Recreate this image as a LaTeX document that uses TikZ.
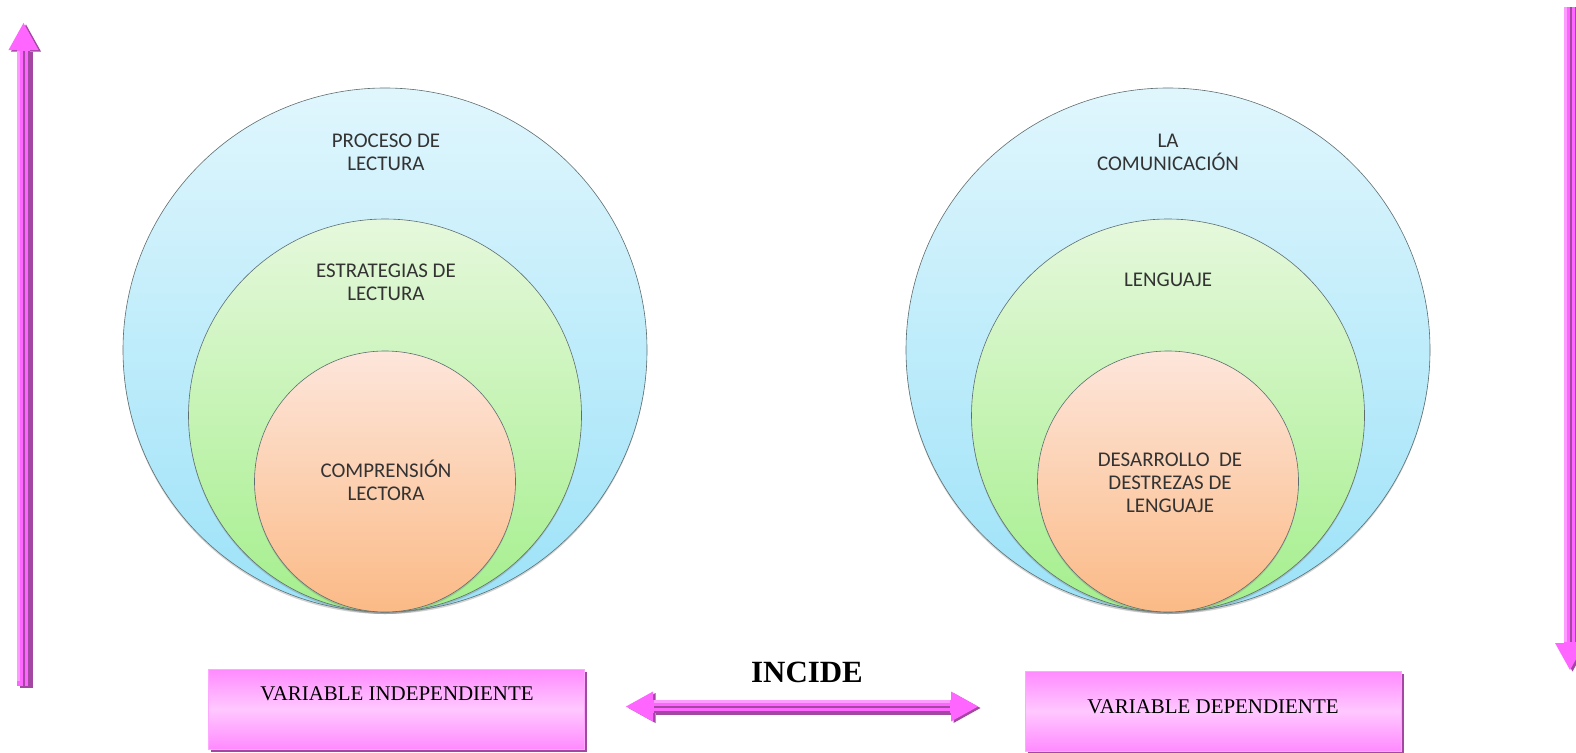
\documentclass[tikz,border=0pt]{standalone}
\usepackage{fontspec}
\setmainfont{Liberation Serif}
\newfontfamily\calibri{Carlito}
\usepackage{tikz}
\usetikzlibrary{calc,arrows.meta,shadows}

\definecolor{bluetop}{HTML}{E0F6FD}
\definecolor{bluebot}{HTML}{9CE2F8}
\definecolor{greentop}{HTML}{E6F8DC}
\definecolor{greenbot}{HTML}{A4EF8C}
\definecolor{orangetop}{HTML}{FDE6DB}
\definecolor{orangebot}{HTML}{FBBA86}
\definecolor{ringline}{HTML}{5E6E70}
\definecolor{ringtext}{HTML}{333333}
\definecolor{boxpink}{HTML}{FF8AFF}
\definecolor{boxlight}{HTML}{FFC8FF}
\definecolor{boxedge}{HTML}{FFA8FF}
\definecolor{arrowpink}{HTML}{FF66FF}
\definecolor{arrowlight}{HTML}{FF9CFF}
\definecolor{arrowpurple}{HTML}{A347A3}

\begin{document}
\begin{tikzpicture}[x=1bp,y=-1bp]
    \tikzstyle{ring}=[circle,draw=ringline,line width=.6bp,inner sep=0,drop shadow={shadow xshift=0bp,shadow yshift=-2bp,opacity=.35}]
    \tikzstyle{outer ring}=[ring,minimum size=524bp,top color=bluetop,bottom color=bluebot]
    \tikzstyle{middle ring}=[ring,minimum size=393bp,top color=greentop,bottom color=greenbot]
    \tikzstyle{inner ring}=[ring,minimum size=261bp,top color=orangetop,bottom color=orangebot]
    \tikzstyle{ring text}=[align=center,text=ringtext,font=\calibri\fontsize{21}{23}\selectfont]
    \tikzstyle{var box}=[rectangle,draw=boxedge,line width=.8bp,minimum width=376bp,minimum height=80bp,
        top color=boxpink,bottom color=boxpink,middle color=boxlight,
        drop shadow={shadow xshift=3bp,shadow yshift=-3bp,opacity=1,fill=arrowpurple}]
    \tikzstyle{var text}=[font=\fontsize{21}{24}\selectfont]
    \tikzstyle{big arrow}=[line width=13bp,draw=arrowpink]
    \tikzstyle{arrow side}=[line width=13bp,draw=arrowpurple]
    \tikzstyle{one head}=[-{Triangle[width=30bp,length=27bp,line width=0pt]}]
    \tikzstyle{two heads}=[{Triangle[width=30bp,length=27bp,line width=0pt]}-{Triangle[width=30bp,length=27bp,line width=0pt]}]
    \tikzstyle{light stripe}=[line width=3bp,draw=arrowlight]
    \tikzstyle{dark stripe}=[line width=2bp,draw=arrowpurple]

    \useasboundingbox (0,0) rectangle (1576,753);

    % circles
    \node (procring) [outer ring] at (385,350) {};
    \node (comuring) [outer ring] at (1168,350) {};
    \node (estrring) [middle ring] at (385,415.5) {};
    \node (lengring) [middle ring] at (1168,415.5) {};
    \node (compring) [inner ring] at (385,481.5) {};
    \node (desaring) [inner ring] at (1168,481.5) {};

    \node (proc) [ring text] at (386,152) {PROCESO DE\\LECTURA};
    \node (estr) [ring text] at (386,282) {ESTRATEGIAS DE\\LECTURA};
    \node (comp) [ring text] at (386,480) {COMPRENSIÓN\\LECTORA};
    \node (comu) [ring text] at (1168,152) {LA\\COMUNICACIÓN};
    \node (leng) [ring text] at (1168,280) {LENGUAJE};
    \node (desa) [ring text] at (1170,483) {DESARROLLO\ \ DE\\DESTREZAS DE\\LENGUAJE};

    % variables
    \node (indep) [var box] at (396,709) {};
    \node (dep) [var box] at (1213,711) {};
    \node (indeptext) [var text] at (397,694) {VARIABLE INDEPENDIENTE};
    \node (deptext) [var text] at (1213,707) {VARIABLE DEPENDIENTE};
    \node (incide) [font=\bfseries\fontsize{31}{36}\selectfont] at (807,672) {INCIDE};

    % arrows
    \coordinate (upfoot) at (23.5,686);
    \coordinate (uptip) at (23.5,23);
    \draw[arrow side,one head] ($(upfoot)+(2.5,1.5)$) -- ($(uptip)+(2.5,1.5)$);
    \draw[big arrow,one head] (upfoot) -- (uptip);
    \draw[light stripe] ($(upfoot)+(-5,-5)$) -- ($(uptip)+(-5,28)$);
    \draw[dark stripe] ($(upfoot)+(0.5,0)$) -- ($(uptip)+(0.5,28)$);
    \draw[dark stripe] ($(upfoot)+(5.5,0)$) -- ($(uptip)+(5.5,28)$);

    \coordinate (downfoot) at (1570,7);
    \coordinate (downtip) at (1570,670);
    \draw[arrow side,one head] ($(downfoot)+(2.5,1.5)$) -- ($(downtip)+(2.5,1.5)$);
    \draw[big arrow,one head] (downfoot) -- (downtip);
    \draw[light stripe] ($(downfoot)+(-5,0)$) -- ($(downtip)+(-5,-28)$);
    \draw[dark stripe] ($(downfoot)+(0.5,0)$) -- ($(downtip)+(0.5,-28)$);
    \draw[dark stripe] ($(downfoot)+(5.5,0)$) -- ($(downtip)+(5.5,-28)$);

    \coordinate (incleft) at (626,706.5);
    \coordinate (incright) at (978,706.5);
    \draw[arrow side,two heads] ($(incleft)+(2.5,1.5)$) -- ($(incright)+(2.5,1.5)$);
    \draw[big arrow,two heads] (incleft) -- (incright);
    \draw[light stripe] ($(incleft)+(28,-5)$) -- ($(incright)+(-28,-5)$);
    \draw[dark stripe] ($(incleft)+(28,0.5)$) -- ($(incright)+(-28,0.5)$);
    \draw[dark stripe] ($(incleft)+(28,5.5)$) -- ($(incright)+(-28,5.5)$);
\end{tikzpicture}
\end{document}
